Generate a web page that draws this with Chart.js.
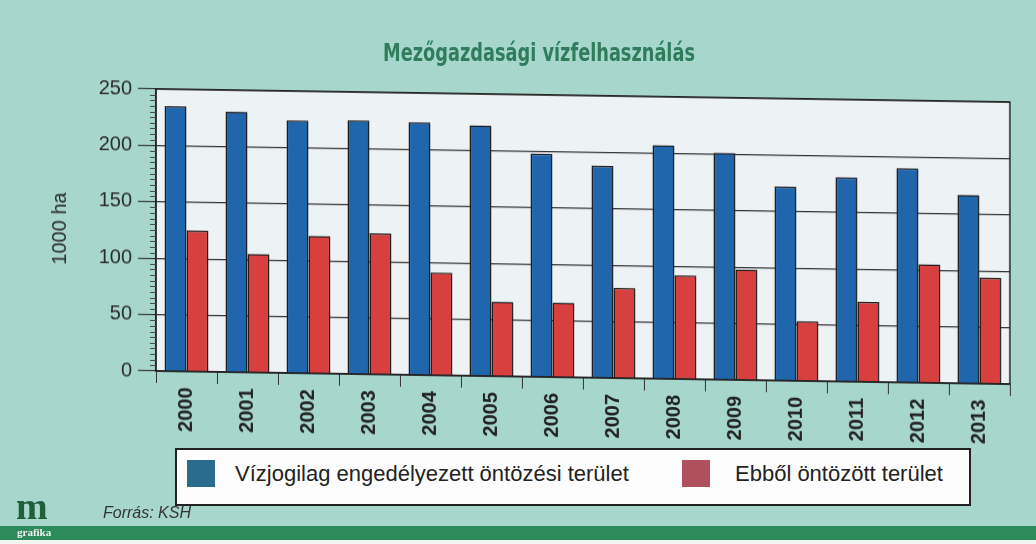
<!DOCTYPE html>
<html>
<head>
<meta charset="utf-8">
<script src="https://cdn.jsdelivr.net/npm/chart.js@4.4.1/dist/chart.umd.min.js"></script>
<style>
  html, body { margin:0; padding:0; }
  body { width:1036px; height:544px; background:#a7d7cc; position:relative; overflow:hidden; font-family:"Liberation Sans", Arial, sans-serif; }
  #wrap { position:absolute; left:0; top:0; width:1036px; height:544px; transform-origin:156px 0; transform:skewY(0.88deg); }
  .title { position:absolute; left:383px; top:39px; font:bold 24px "DejaVu Sans Condensed", "DejaVu Sans", sans-serif; color:#2f7d5c; white-space:nowrap; transform-origin:0 0; }
  .legend { position:absolute; left:175px; top:448px; width:792px; height:54px; background:#fdfdfd; border:2px solid #222; }
  .sw { position:absolute; top:10px; width:28px; height:27px; }
  .lt { position:absolute; top:11px; font-size:22px; color:#222; white-space:nowrap; }
  .src { position:absolute; left:103px; top:504px; font:italic 16px "Liberation Sans", Arial, sans-serif; color:#333; }
  .band { position:absolute; left:0; top:526px; width:1036px; height:14px; background:#2c8a5b; }
  .foot { position:absolute; left:0; top:540px; width:1036px; height:4px; background:#f4f6f2; }
  .logo { position:absolute; left:16px; top:484px; font:bold 38px "Liberation Serif", serif; color:#1f5f3c; }
  .logo2 { position:absolute; left:17px; top:526px; font:bold 11px "Liberation Serif", serif; color:#f2f2f2; }
</style>
</head>
<body>
<div id="wrap"><canvas id="chart"></canvas></div>
<div class="title">Mezőgazdasági vízfelhasználás</div>
<div class="legend">
  <div class="sw" style="left:10px;background:#2b6b8e"></div>
  <div class="lt" style="left:58px">Vízjogilag engedélyezett öntözési terület</div>
  <div class="sw" style="left:505px;background:#b04f5e"></div>
  <div class="lt" style="left:558px">Ebből öntözött terület</div>
</div>
<div class="band"></div>
<div class="foot"></div>
<div class="logo">m</div>
<div class="logo2">grafika</div>
<div class="src">Forrás: KSH</div>
<script>
const years = ['2000','2001','2002','2003','2004','2005','2006','2007','2008','2009','2010','2011','2012','2013'];
const permitted = [235, 231, 224, 225, 224, 222, 198, 188, 207, 201, 172, 181, 190, 167];
const irrigated = [125, 105, 122, 125, 91, 66, 66, 80, 92, 98, 53, 71, 105, 94];
const yTicks = [0, 50, 100, 150, 200, 250];

// squeeze the title to the condensed width of the original lettering
const titleEl = document.querySelector('.title');
titleEl.style.transform = 'scaleX(' + (312 / titleEl.getBoundingClientRect().width) + ')';

const frame = {
  id:'frame',
  beforeDraw(chart) {
    const {ctx, chartArea:a} = chart;
    ctx.save();
    ctx.fillStyle = '#edf2f5';
    ctx.fillRect(a.left, a.top, a.right - a.left, a.bottom - a.top);
    ctx.restore();
  },
  afterDraw(chart) {
    const {ctx, chartArea:a, scales} = chart;
    ctx.save();
    ctx.strokeStyle = '#222';
    ctx.lineWidth = 1.5;
    ctx.strokeRect(a.left, a.top, a.right - a.left, a.bottom - a.top);
    // minor ticks every 5 units on y axis
    ctx.lineWidth = 1;
    ctx.strokeStyle = '#444';
    for (let v = 0; v <= 250; v += 5) {
      if (v % 50 === 0) continue;
      const y = Math.round(scales.y.getPixelForValue(v)) + 0.5;
      ctx.beginPath(); ctx.moveTo(a.left - 6, y); ctx.lineTo(a.left, y); ctx.stroke();
    }
    ctx.restore();
  }
};

new Chart(document.getElementById('chart'), {
  type:'bar',
  data:{ labels:years, datasets:[
    { label:'Vízjogilag engedélyezett öntözési terület', data:permitted, backgroundColor:'#1f66ad', borderColor:'#1b1b1b', borderWidth:1.5 },
    { label:'Ebből öntözött terület', data:irrigated, backgroundColor:'#d8403f', borderColor:'#1b1b1b', borderWidth:1.5 }
  ]},
  options:{
    responsive:true, maintainAspectRatio:false, animation:false,
    layout:{ padding:{ left:0, top:89, right:26, bottom:103 } },
    datasets:{ bar:{ categoryPercentage:0.72, barPercentage:1.0 } },
    plugins:{ legend:{ display:false }, tooltip:{ enabled:false } },
    scales:{
      x:{
        offset:true,
        grid:{ offset:true, drawOnChartArea:false, color:'#333', tickLength:12 },
        border:{ color:'#222', width:1.5 },
        ticks:{ minRotation:90, maxRotation:90, padding:4, color:'#222', font:{ size:20, weight:'bold', family:'Liberation Sans' } },
        afterFit:s => { s.height = 70; }
      },
      y:{
        min:0, max:250,
        afterBuildTicks:s => { s.ticks = yTicks.map(v => ({ value:v })); },
        grid:{ color:'#333', lineWidth:1.2, tickLength:18 },
        border:{ color:'#222', width:1.5 },
        ticks:{ padding:6, color:'#2a2a2a', font:{ size:20, family:'Liberation Sans' } },
        title:{ display:true, text:'1000 ha', color:'#2a2a2a', padding:{ top:48, bottom:0 }, font:{ size:20, family:'Liberation Sans' } },
        afterFit:s => { s.width = 156; }
      }
    }
  },
  plugins:[frame]
});
</script>
</body>
</html>
